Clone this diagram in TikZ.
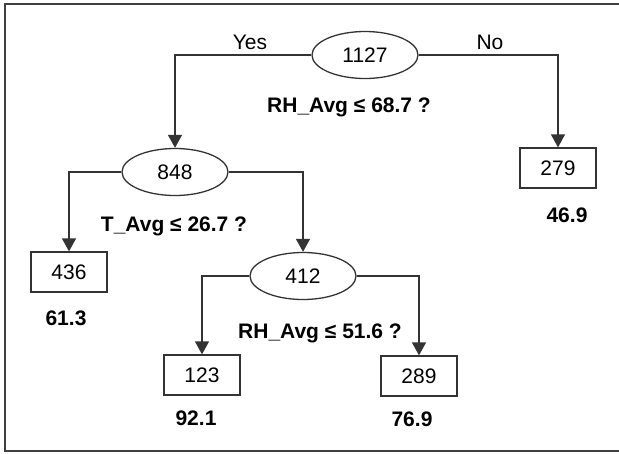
\documentclass[tikz,border=0pt]{standalone}
\usepackage{fontspec}
\setmainfont{Liberation Sans}
\usetikzlibrary{shapes.geometric,arrows.meta}

\tikzset{
    split/.style={draw=black!80,line width=1.3pt,ellipse,minimum width=106pt,minimum height=47pt,inner sep=0pt},
    leaf/.style={draw=black!80,line width=1.3pt,rectangle,minimum width=76pt,minimum height=40pt,inner sep=0pt},
    branch/.style={draw=black!80,line width=1.3pt,->},
    rule/.style={font=\fontsize{21}{24}\selectfont\bfseries},
    mean/.style={font=\fontsize{21}{24}\selectfont\bfseries}
}

\begin{document}
\begin{tikzpicture}[x=1pt,y=-1pt,>={Triangle[length=13pt,width=14pt]},font=\fontsize{21}{24}\selectfont]
        \useasboundingbox (0,0) rectangle (619,453);
        \draw [line width=2pt,black!75] (619,4)--(5,4)--(5,451)--(619,451);

        \node [split] (n1127) at(365,55) {1127};
        \node [split] (n848) at(175,172) {848};
        \node [leaf] (n279) at(558,168) {279};
        \node [leaf] (n436) at(69,272) {436};
        \node [split] (n412) at(303,276) {412};
        \node [leaf] (n123) at(202,375) {123};
        \node [leaf] (n289) at(419,376) {289};

        \draw [branch] (n1127.west) -| (n848.north);
        \draw [branch] (n1127.east) -| (n279.north);
        \draw [branch] (n848.west) -| (n436.north);
        \draw [branch] (n848.east) -| (n412.north);
        \draw [branch] (n412.west) -| (n123.north);
        \draw [branch] (n412.east) -| (n289.north);

        \node (yes) at(250,42) {Yes};
        \node (no) at(490,42) {No};
        \node [rule] (r1) at(349,107) {RH\_Avg ≤ 68.7 ?};
        \node [rule] (r2) at(174,226) {T\_Avg ≤ 26.7 ?};
        \node [rule] (r3) at(320,333) {RH\_Avg ≤ 51.6 ?};

        \node [mean] (m279) at(567,215) {46.9};
        \node [mean] (m436) at(66,318) {61.3};
        \node [mean] (m123) at(196,418) {92.1};
        \node [mean] (m289) at(412,419) {76.9};
    \end{tikzpicture}
\end{document}
